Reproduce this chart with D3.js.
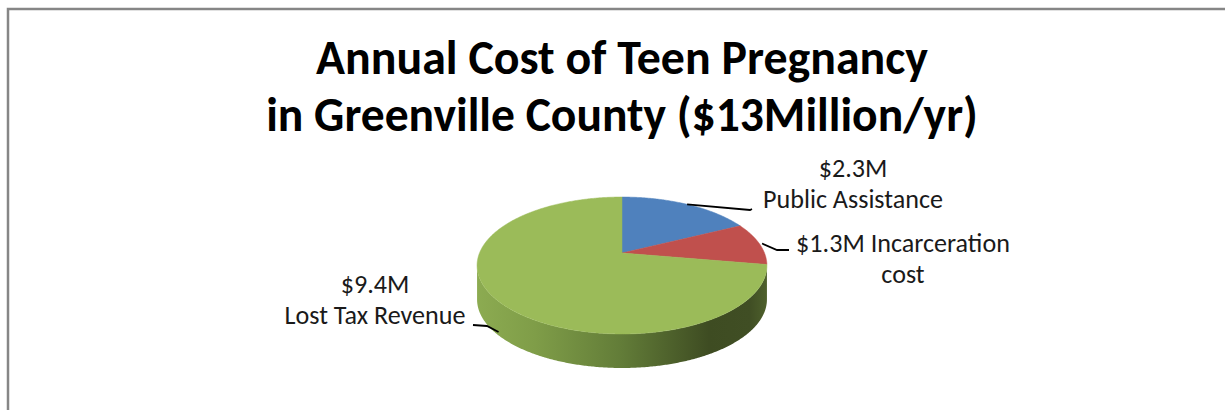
<!DOCTYPE html>
<html>
<head>
<meta charset="utf-8">
<script src="https://cdn.jsdelivr.net/npm/d3@7"></script>
<style>
  body { margin: 0; background: #fff; }
  text { font-family: Carlito, Calibri, Lato, "Open Sans", sans-serif; }
</style>
</head>
<body>
<div id="chart"></div>
<script>
// data
var categories = ["Public Assistance", "Incarceration cost", "Lost Tax Revenue"];
var values = [2.3, 1.3, 9.4];
var valueLabels = ["$2.3M", "$1.3M", "$9.4M"];
var colors = ["#4F81BD", "#C0504D", "#9BBB59"];
var titleLines = ["Annual Cost of Teen Pregnancy", "in Greenville County ($13Million/yr)"];

// label text, built from the data above
var labelLines = [
  [valueLabels[0], categories[0]],
  [valueLabels[1] + " Incarceration", "cost"],
  [valueLabels[2], categories[2]]
];

var svgWidth = 1225, svgHeight = 410;

// 3d pie geometry (perspective projection of a flat disc)
var cx = 622, cy = 253;
var kx = 142.5, ky = 66.2, persp = 0.1825, depth = 34;

function proj(phi, r) {
  r = r || 1;
  var u = r * Math.sin(phi), v = r * Math.cos(phi);
  var w = 1 + persp * v;
  return [cx + kx * u / w, cy - ky * v / w];
}

var svg = d3.select("#chart").append("svg")
  .attr("width", svgWidth)
  .attr("height", svgHeight);

svg.append("rect")
  .attr("x", 8).attr("y", 9)
  .attr("width", 1400).attr("height", 600)
  .attr("fill", "#fff")
  .attr("stroke", "#868686")
  .attr("stroke-width", 2.5);

// title
var titleG = svg.append("g");
var titleBase = [74, 131];
var titleWidths = [612, 712];
titleLines.forEach(function(t, i) {
  var txt = titleG.append("text")
    .attr("x", 622)
    .attr("y", titleBase[i])
    .attr("text-anchor", "middle")
    .attr("font-weight", "bold")
    .attr("font-size", 48)
    .attr("fill", "#000")
    .text(t);
  var len = txt.node().getComputedTextLength();
  txt.attr("font-size", 48 * titleWidths[i] / len);
});

var pie = d3.pie().sort(null).value(function(d) { return d; });
var arcs = pie(values);

var line = d3.line();

// side of the disc (front band), drawn first
var N = 720;
var topPts = d3.range(N + 1).map(function(i) { return proj(i / N * 2 * Math.PI); });
var iL = d3.minIndex(topPts, function(p) { return p[0]; });
var iR = d3.maxIndex(topPts, function(p) { return p[0]; });
var front = topPts.slice(iR, iL + 1);
var back = front.map(function(p) { return [p[0], p[1] + depth]; }).reverse();

var defs = svg.append("defs");
var grad = defs.append("linearGradient")
  .attr("id", "sideGrad")
  .attr("gradientUnits", "userSpaceOnUse")
  .attr("x1", topPts[iL][0]).attr("x2", topPts[iR][0])
  .attr("y1", 0).attr("y2", 0);
[[0, "#8cab51"], [0.2, "#7f9d48"], [0.5, "#627c38"], [0.8, "#3e4c22"], [0.94, "#404e24"], [1, "#4e602c"]]
  .forEach(function(s) {
    grad.append("stop").attr("offset", s[0]).attr("stop-color", s[1]);
  });

svg.append("path")
  .attr("d", line(front.concat(back)) + "Z")
  .attr("fill", "url(#sideGrad)");

// top face slices
svg.selectAll("path.slice")
  .data(arcs)
  .enter()
  .append("path")
  .attr("class", "slice")
  .attr("d", function(d) {
    var n = Math.max(2, Math.ceil((d.endAngle - d.startAngle) / 0.01));
    var pts = [[cx, cy]];
    for (var i = 0; i <= n; i++) {
      pts.push(proj(d.startAngle + (d.endAngle - d.startAngle) * i / n));
    }
    return line(pts) + "Z";
  })
  .attr("fill", function(d, i) { return colors[i]; })
  .attr("stroke", function(d, i) { return colors[i]; })
  .attr("stroke-width", 0.5);

// labels and leader lines
var labelPos = [
  { x: 853, y: 177, anchorR: 1.0, drop: 0, elbow: [750, 210], end: [752, 209] },
  { x: 903, y: 252, anchorR: 1.02, drop: 0, elbow: [777, 250], end: [789, 250] },
  { x: 375, y: 293, anchorR: 1.0, drop: 0.9, elbow: [487, 326], end: [473, 325] }
];

arcs.forEach(function(d, i) {
  var mid = (d.startAngle + d.endAngle) / 2;
  var p = proj(mid, labelPos[i].anchorR);
  p = [p[0], p[1] + depth * labelPos[i].drop];
  svg.append("path")
    .attr("d", line([p, labelPos[i].elbow, labelPos[i].end]))
    .attr("fill", "none")
    .attr("stroke", "#000")
    .attr("stroke-width", 1.8);

  labelLines[i].forEach(function(t, j) {
    svg.append("text")
      .attr("class", "lbl")
      .attr("x", labelPos[i].x)
      .attr("y", labelPos[i].y + j * 31)
      .attr("text-anchor", "middle")
      .attr("font-size", 20)
      .attr("fill", "#1a1a1a")
      .text(t);
  });
});

// fit label size to the reference width of "Public Assistance" (180px)
var ref = svg.selectAll("text.lbl").filter(function() { return this.textContent === categories[0]; });
var lblSize = 20 * 180 / ref.node().getComputedTextLength();
svg.selectAll("text.lbl").attr("font-size", lblSize);
</script>
</body>
</html>
